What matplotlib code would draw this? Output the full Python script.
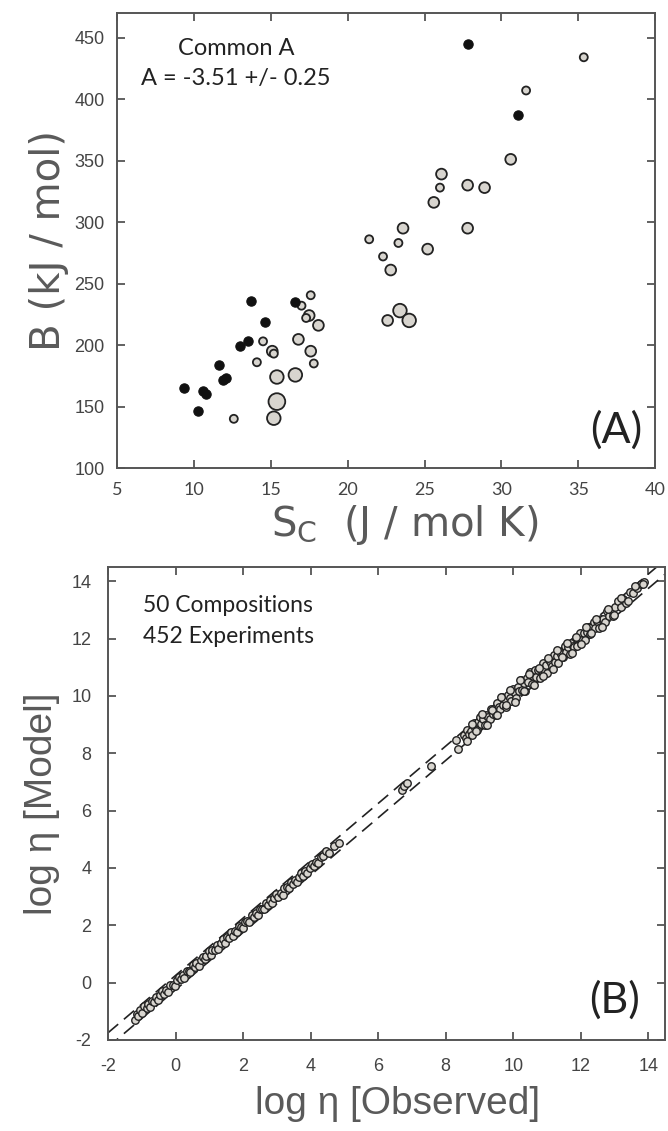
import matplotlib
matplotlib.use('Agg')  # Non-interactive backend

import matplotlib.pyplot as plt
import numpy as np

plt.rcParams['mathtext.fontset'] = 'custom'
plt.rcParams['mathtext.rm'] = 'DejaVu Sans'
plt.rcParams['axes.unicode_minus'] = False

# ---- Panel A data: S_C (J/mol K) vs B (kJ/mol)
black_sc = [27.8, 31.1, 13.7, 16.6, 14.6, 13.5, 13.0, 11.65, 12.1, 11.9, 9.36, 10.6, 10.8, 10.3]
black_b = [445, 387, 236, 235, 219, 203.5, 199, 184, 173, 171.6, 165, 163, 160, 146]

gray_sc = [35.35, 31.6, 30.6, 26.1, 26.0, 27.8, 28.9, 25.6, 23.6, 27.8,
           21.4, 23.3, 25.2, 22.3, 22.8, 23.4, 24.0, 22.6, 17.6, 17.0,
           17.5, 17.3, 18.1, 16.8, 14.5, 15.1, 15.2, 17.6, 14.1, 17.8,
           15.4, 16.6, 15.4, 15.2, 12.6]
gray_b = [434, 407, 351, 339, 328, 330, 328, 316, 295, 295,
          286, 283, 278, 272, 261, 228, 220, 220, 240.5, 232,
          224, 222, 216, 204.6, 203, 195, 193, 195, 186, 185,
          174, 175.7, 154, 140.5, 140]
gray_cls = ['s', 's', 'm', 'm', 's', 'm', 'm', 'm', 'm', 'm',
            's', 's', 'm', 's', 'm', 'l', 'l', 'm', 's', 's',
            'm', 's', 'm', 'm', 's', 'm', 's', 'm', 's', 's',
            'l', 'l', 'xl', 'l', 's']

# ---- Panel B data: log eta observed, and model residual (model - observed)
obs_low = [-1.21, -1.15, -1.12, -1.04, -0.99, -0.93, -0.86, -0.81, -0.77, -0.70,
           -0.63, -0.58, -0.52, -0.47, -0.40, -0.33, -0.29, -0.21, -0.16, -0.09,
           -0.03, 0.04, 0.09, 0.15, 0.22, 0.26, 0.33, 0.39, 0.44, 0.51,
           0.57, 0.62, 0.69, 0.74, 0.80, 0.87, 0.91, 0.98, 1.04, 1.09,
           1.16, 1.22, 1.27, 1.34, 1.41, 1.45, 1.52, 1.58, 1.63, 1.70,
           1.76, 1.83, 1.88, 1.94, 2.01, 2.06, 2.13, 2.19, 2.25, 2.31,
           2.37, 2.44, 2.49, 2.56, 2.62, 2.67, 2.74, 2.80, 2.86, 2.92,
           2.99, 3.04, 3.11, 3.17, 3.22, 3.29, 3.35, 3.41, 3.47, 3.53,
           3.60, 3.66, 3.71, 3.78, 3.84, 3.90, 3.97, 4.03, 4.09, 4.16,
           4.22, 4.30, 4.38, 4.47, 4.55, 4.68, 4.83]
res_low = [-0.09, 0.07, -0.04, 0.08, -0.06, 0.10, -0.02, 0.05, -0.08, 0.06,
           -0.03, 0.09, -0.07, 0.04, 0.10, -0.05, 0.02, -0.10, 0.07, 0.00,
           -0.08, 0.06, 0.11, -0.04, 0.03, -0.09, 0.08, 0.01, -0.06, 0.10,
           -0.02, 0.07, -0.10, 0.04, 0.09, -0.05, 0.02, 0.11, -0.07, 0.05,
           -0.03, 0.08, -0.09, 0.03, 0.10, -0.06, 0.06, -0.02, 0.12, -0.08,
           0.04, -0.05, 0.09, 0.00, -0.10, 0.07, 0.03, -0.06, 0.11, -0.02,
           0.06, -0.09, 0.08, 0.02, -0.05, 0.10, -0.03, 0.07, -0.08, 0.04,
           0.09, -0.04, 0.02, -0.10, 0.08, 0.05, -0.06, 0.11, -0.02, 0.06,
           -0.08, 0.03, 0.10, -0.05, 0.07, -0.09, 0.04, 0.12, -0.03, 0.06,
           -0.06, 0.09, 0.02, 0.12, -0.04, 0.10, 0.03]

obs_mid = [6.70, 6.78, 6.86, 7.58, 8.32, 8.38]
res_mid = [0.02, 0.08, 0.09, -0.02, 0.13, -0.22]

obs_up = [8.55, 8.60, 8.64, 8.70, 8.74, 8.79, 8.83, 8.88, 8.93, 8.97,
          9.02, 9.06, 9.11, 9.16, 9.20, 9.25, 9.30, 9.34, 9.39, 9.43,
          9.48, 9.53, 9.57, 9.62, 9.66, 9.71, 9.76, 9.80, 9.85, 9.90,
          9.94, 9.99, 10.04, 10.08, 10.13, 10.18, 10.22, 10.27, 10.31, 10.36,
          10.41, 10.45, 10.50, 10.55, 10.59, 10.64, 10.69, 10.73, 10.78, 10.83,
          10.87, 10.92, 10.97, 11.01, 11.06, 11.11, 11.15, 11.20, 11.25, 11.29,
          11.34, 11.39, 11.43, 11.48, 11.53, 11.57, 11.62, 11.67, 11.71, 11.76,
          11.81, 11.85, 11.90, 11.95, 11.99, 12.04, 12.09, 12.14, 12.18, 12.23,
          12.28, 12.33, 12.38, 12.43, 12.48, 12.54, 12.59, 12.65, 12.71, 12.77,
          12.83, 12.89, 12.96, 13.03, 13.10, 13.18, 13.26, 13.35, 13.45, 13.56,
          13.68, 13.80, 13.88,
          8.62, 8.77, 8.91, 9.08, 9.22, 9.36, 9.51, 9.64, 9.78, 9.92,
          10.06, 10.20, 10.33, 10.47, 10.61, 10.75, 10.89, 11.03, 11.17, 11.31,
          11.45, 11.59, 11.73, 11.87, 12.01, 12.16, 12.30, 12.45, 12.62, 12.80,
          12.99, 13.20, 13.40, 13.62, 13.84]
res_up = [0.10, -0.08, 0.18, -0.02, 0.05, -0.15, 0.22, 0.00, -0.10, 0.12,
          0.25, -0.05, 0.08, -0.18, 0.15, 0.02, -0.12, 0.20, -0.03, 0.10,
          -0.15, 0.22, 0.05, -0.08, 0.30, -0.02, 0.12, -0.20, 0.18, 0.04,
          -0.10, 0.26, 0.08, -0.16, 0.20, 0.00, 0.32, -0.06, 0.14, -0.18,
          0.22, 0.05, 0.35, -0.12, 0.10, 0.25, -0.04, 0.16, -0.15, 0.08,
          0.28, -0.02, 0.12, -0.20, 0.18, 0.04, -0.10, 0.24, -0.06, 0.10,
          -0.18, 0.15, 0.02, -0.12, 0.20, -0.04, 0.10, -0.22, 0.14, 0.00,
          -0.10, 0.18, -0.16, 0.06, 0.22, -0.08, 0.12, -0.20, 0.04, 0.16,
          -0.12, 0.08, 0.20, -0.06, 0.14, -0.18, 0.10, 0.02, -0.14, 0.18,
          -0.04, 0.12, -0.16, 0.08, 0.20, -0.06, 0.14, -0.10, 0.16, 0.02,
          0.10, 0.12, 0.10,
          -0.20, 0.24, -0.12, 0.28, -0.24, 0.16, -0.18, 0.32, -0.08, 0.30,
          -0.26, 0.36, -0.14, 0.30, -0.24, 0.22, -0.18, 0.30, -0.22, 0.28,
          -0.10, 0.26, -0.24, 0.18, -0.18, 0.26, -0.12, 0.22, -0.20, 0.24,
          -0.16, 0.22, -0.08, 0.20, 0.05]

band = [-0.25, 0.25]  # dashed envelope offsets

a_xticks = [5, 10, 15, 20, 25, 30, 35, 40]
a_yticks = [100, 150, 200, 250, 300, 350, 400, 450]
b_ticks = [-2, 0, 2, 4, 6, 8, 10, 12, 14]

# ---- styles
SIZE = {'s': 33, 'm': 60, 'l': 95, 'xl': 145}
SPINE = '#555555'
LABEL = '#5a5a5a'
TICKC = '#444444'
GRAYFILL = '#d8d5cf'


def style_axes(ax):
    for s in ax.spines.values():
        s.set_color(SPINE)
        s.set_linewidth(1.4)
    ax.tick_params(direction='in', length=6, width=1.3, color=SPINE,
                   top=True, right=True, labelcolor=TICKC)


DPI = 100
fig = plt.figure(figsize=(6.68, 11.31), dpi=DPI)

# ---------- Panel A
ax1 = fig.add_axes([0.175, 0.5862, 0.806, 0.4023])
ax1.scatter(gray_sc, gray_b, s=[SIZE[c] for c in gray_cls], c=GRAYFILL,
            edgecolors='#222222', linewidths=1.3, zorder=3)
ax1.scatter(black_sc, black_b, s=45, c='#111111', edgecolors='#111111',
            linewidths=0.8, zorder=4)
ax1.set_xlim(5, 40)
ax1.set_ylim(100, 470)
ax1.set_xticks(a_xticks)
ax1.set_yticks(a_yticks)
style_axes(ax1)
for lab in ax1.get_xticklabels():
    lab.set_fontfamily('Lato')
    lab.set_fontsize(13)
for lab in ax1.get_yticklabels():
    lab.set_fontfamily('Liberation Sans')
    lab.set_fontsize(13)
ax1.tick_params(axis='x', pad=10)
ax1.tick_params(axis='y', pad=9)
ax1.set_ylabel('B (kJ / mol)', fontsize=29, color=LABEL, family='DejaVu Sans', labelpad=4)
ax1.set_xlabel(r'S$_{\rm C}$  (J / mol K)', fontsize=29, color=LABEL, family='DejaVu Sans', labelpad=4)
ax1.xaxis.label.set_x(0.535)
ax1.text(0.221, 0.923, 'Common A', transform=ax1.transAxes, ha='center', va='center',
         fontsize=17, family='Lato', color='#222222')
ax1.text(0.221, 0.857, 'A = -3.51 +/- 0.25', transform=ax1.transAxes, ha='center', va='center',
         fontsize=17, family='Lato', color='#222222')
ax1.text(0.975, 0.083, '(A)', transform=ax1.transAxes, ha='right', va='center',
         fontsize=31, family='Lato', color='#222222')

# ---------- Panel B
ax2 = fig.add_axes([0.1617, 0.0805, 0.834, 0.4182])
ax2.set_xlim(-2, 14.5)
ax2.set_ylim(-2, 14.5)
xl = np.array(ax2.get_xlim())
for off in band:
    ax2.plot(xl, xl + off, ls=(0, (8, 4.5)), color='#222222', lw=1.2, zorder=2)
kw = dict(marker='o', ls='none', ms=5.4, mfc='#d8d5cf', mec='#222222', mew=1.0, zorder=3)
ax2.plot(obs_low, np.add(obs_low, res_low), **kw)
ax2.plot(obs_mid, np.add(obs_mid, res_mid), **kw)
ax2.plot(obs_up, np.add(obs_up, res_up), **kw)
ax2.set_xticks(b_ticks)
ax2.set_yticks(b_ticks)
style_axes(ax2)
for lab in ax2.get_xticklabels() + ax2.get_yticklabels():
    lab.set_fontfamily('Liberation Sans')
    lab.set_fontsize(13)
ax2.tick_params(axis='x', pad=13)
ax2.tick_params(axis='y', pad=12)
ax2.set_ylabel('log η [Model]', fontsize=28, color=LABEL, family='Liberation Sans', labelpad=8)
ax2.set_xlabel('log η [Observed]', fontsize=28, color=LABEL, family='Liberation Sans', labelpad=8)
ax2.xaxis.label.set_x(0.52)
ax2.text(0.063, 0.918, '50 Compositions', transform=ax2.transAxes, ha='left', va='center',
         fontsize=16.5, family='Lato', color='#222222')
ax2.text(0.063, 0.854, '452 Experiments', transform=ax2.transAxes, ha='left', va='center',
         fontsize=16.5, family='Lato', color='#222222')
ax2.text(0.955, 0.085, '(B)', transform=ax2.transAxes, ha='right', va='center',
         fontsize=31, family='Lato', color='#222222')

plt.savefig('out.png', dpi=DPI)
